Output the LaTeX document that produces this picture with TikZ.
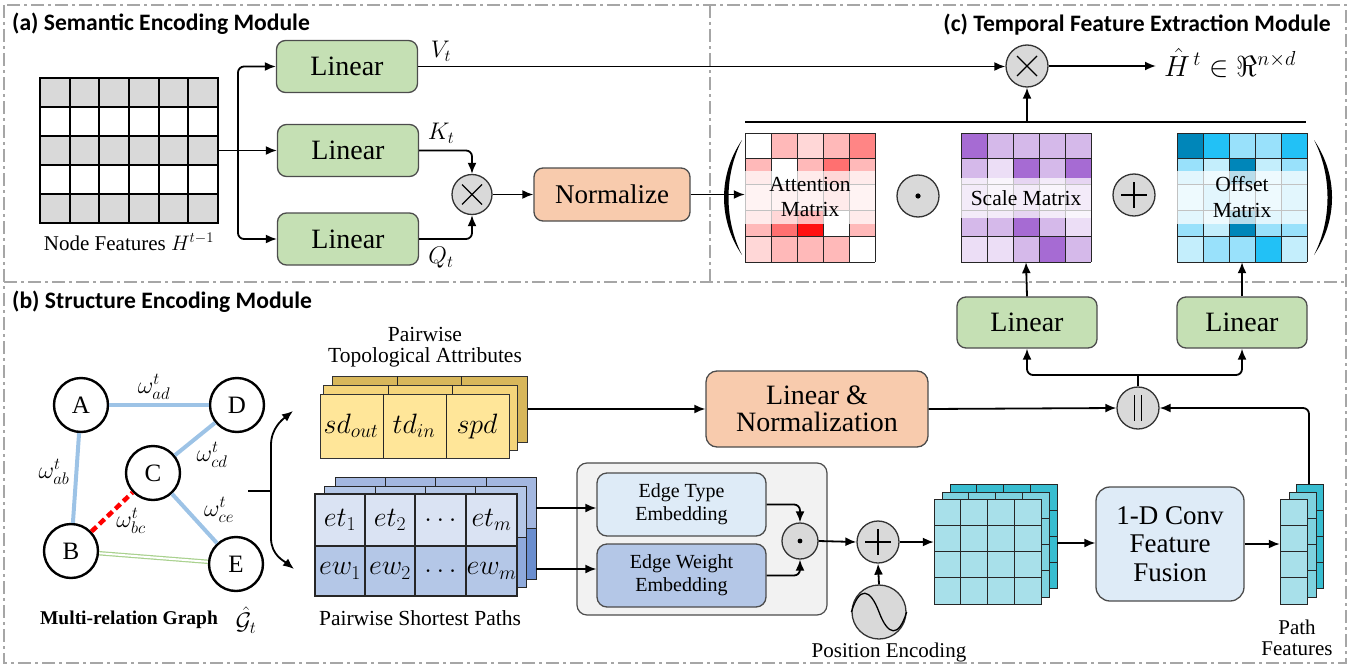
\RequirePackage{fix-cm}
\documentclass[tikz,border=0pt]{standalone}
\usepackage[no-math]{fontspec}
\setmainfont{Liberation Serif}
\newfontfamily\hdfont{Carlito}
\newfontfamily\tmfont{Liberation Serif}
\usetikzlibrary{arrows.meta,calc}
\definecolor{cgreen}{HTML}{C5E0B4}
\definecolor{csalmon}{HTML}{F8CBAD}
\definecolor{cop}{HTML}{D9D9D9}
\definecolor{cpanel}{HTML}{A6A6A6}
\definecolor{clb}{HTML}{DEEBF7}
\definecolor{cmb}{HTML}{B4C7E7}
\definecolor{ccont}{HTML}{F2F2F2}
\definecolor{cedge}{HTML}{9DC3E6}
\definecolor{cgedge}{HTML}{A9D18E}
\definecolor{ra}{HTML}{FFB9B9}
\definecolor{rb}{HTML}{FFD7D7}
\definecolor{rc}{HTML}{FF8585}
\definecolor{rd}{HTML}{FF7070}
\definecolor{re}{HTML}{FF1010}
\definecolor{pa}{HTML}{A66BD3}
\definecolor{pb}{HTML}{D5B9EA}
\definecolor{pc}{HTML}{ECDEF6}
\definecolor{ba}{HTML}{0086B9}
\definecolor{bb}{HTML}{22C1F6}
\definecolor{bc}{HTML}{99E1FB}
\definecolor{bd}{HTML}{C4EEFC}
\definecolor{ya}{HTML}{FFE699}
\definecolor{yb}{HTML}{F5D57B}
\definecolor{yc}{HTML}{D8B75B}
\definecolor{sa}{HTML}{DAE3F3}
\definecolor{sb}{HTML}{B4C7E7}
\definecolor{sc}{HTML}{A3B7E0}
\definecolor{sd}{HTML}{8FAADC}
\definecolor{se}{HTML}{6A8ECF}
\definecolor{ca}{HTML}{A8E0EA}
\definecolor{cb}{HTML}{7ED2DF}
\definecolor{cc}{HTML}{38BDD0}
\tikzset{
  box/.style={draw=black!70, line width=1.3pt, rounded corners=9pt, inner sep=0pt, align=center},
  greenbox/.style={box, fill=cgreen, minimum width=141pt, minimum height=52pt, font=\tmfont\fontsize{28}{30}\selectfont},
  opc/.style={circle, draw=black!80, line width=1.3pt, fill=cop, inner sep=0pt, minimum size=#1},
  arr/.style={-{Latex[length=11pt,width=9pt]}, line width=1.8pt},
  ln/.style={line width=1.8pt},
  panel/.style={draw=cpanel, line width=1.8pt, dash pattern=on 13pt off 4pt on 3pt off 4pt},
  gnode/.style={circle, draw=black, fill=white, line width=2.4pt, minimum size=54pt, inner sep=0pt, font=\tmfont\fontsize{25}{25}\selectfont},
  lbl/.style={font=\tmfont\fontsize{21}{21}\selectfont, align=center, inner sep=1pt},
  mth/.style={font=\fontsize{24}{24}\selectfont, inner sep=1pt},
  cmth/.style={font=\fontsize{28}{28}\selectfont, inner sep=1pt},
  hdr/.style={font=\hdfont\bfseries\fontsize{23.6}{24}\selectfont, inner sep=0pt},
  cell/.style={draw=black!85, line width=1pt},
  band/.style={fill=white, opacity=0.72},
  mnode/.style={minimum width=130pt, minimum height=129pt, inner sep=0pt},
  mtext/.style={font=\tmfont\fontsize{21.5}{25.5}\selectfont, align=center, inner sep=1pt},
}
\newcommand\opcross[1]{\draw[line width=1.2pt] ([xshift=-10pt,yshift=10pt]#1.center) -- ([xshift=10pt,yshift=-10pt]#1.center) ([xshift=10pt,yshift=10pt]#1.center) -- ([xshift=-10pt,yshift=-10pt]#1.center);}
\newcommand\opplus[1]{\draw[line width=1.2pt] ([xshift=-13pt]#1.center) -- ([xshift=13pt]#1.center) ([yshift=13pt]#1.center) -- ([yshift=-13pt]#1.center);}
\newcommand\mymatrix[3]{%
  \foreach \rowl [count=\ri from 0] in {#3} {
    \foreach \cl [count=\ki from 0] in \rowl {
      \fill[\cl] ({#1+\ki*26},{#2+\ri*25.8}) rectangle ++(26,25.8);
    }
  }
  \foreach \ki in {0,...,5} {\draw[cell] ({#1+\ki*26},#2) -- ++(0,129);}
  \foreach \ri in {0,...,5} {\draw[cell] (#1,{#2+\ri*25.8}) -- ++(130,0);}
}
\newcommand\cgrid[7]{%
  \filldraw[fill=#7, draw=black!85, line width=1pt] (#1,#2) rectangle ++(#3,#4);
  \foreach \ki in {0,...,#5} {\draw[cell] ({#1+\ki*#3/#5},#2) -- ++(0,#4);}
  \foreach \ri in {0,...,#6} {\draw[cell] (#1,{#2+\ri*#4/#6}) -- ++(#3,0);}
}
\begin{document}
\begin{tikzpicture}[x=1pt,y=-1pt]
\useasboundingbox (0,0) rectangle (1364,669);
% panels
\draw[panel] (4,5) rectangle (1346,663);
\draw[panel] (4,282) -- (1346,282);
\draw[panel] (710,5) -- (710,282);
\node[hdr, anchor=west] (ha) at (12,24) {(a) Semantic Encoding Module};
\node[hdr, anchor=east] (hc) at (1331,25) {(c) Temporal Feature Extraction Module};
\node[hdr, anchor=west] (hb) at (12,302) {(b) Structure Encoding Module};

% ---------- (a) ----------
\foreach \ri in {0,2,4} {\fill[cop] (40,{78+\ri*29}) rectangle (218,{107+\ri*29});}
\foreach \ki in {0,...,6} {\draw[line width=1.8pt] ({40+\ki*29.667},78) -- ({40+\ki*29.667},223);}
\foreach \ri in {0,...,5} {\draw[line width=2.4pt] (39,{78+\ri*29}) -- (219,{78+\ri*29});}
\node[minimum width=178pt, minimum height=145pt, inner sep=0pt] (nf) at (129,150.5) {};
\node[lbl] (nfl) at (129,242) {Node Features $H^{t-1}$};

\node[greenbox] (la1) at (347,66.5) {Linear};
\node[greenbox] (la2) at (348,150.5) {Linear};
\node[greenbox] (la3) at (348,239) {Linear};
\coordinate (br) at (238,150.5);
\draw[ln] (nf.east) -- (br);
\draw[arr] (br) -- (la2.west);
\draw[arr, rounded corners=6pt] (br) |- (la1.west);
\draw[arr, rounded corners=6pt] (br) |- (la3.west);
\node[mth] (vt) at (441,51) {$V_t$};
\node[mth] (kt) at (441,133) {$K_t$};
\node[mth] (qt) at (441,258) {$Q_t$};

\node[opc=40pt] (m1) at (472,194.5) {};
\opcross{m1}
\draw[arr, rounded corners=6pt] (la2.east) -| (m1.north);
\draw[arr, rounded corners=6pt] (la3.east) -| (m1.south);
\node[box, fill=csalmon, minimum width=156pt, minimum height=53pt, font=\tmfont\fontsize{27}{30}\selectfont] (nrm) at (612,194.5) {Normalize};
\draw[arr] (m1.east) -- (nrm.west);

% ---------- (c) ----------
\node[opc=42pt] (m2) at (1027,66) {};
\opcross{m2}
\draw[arr] (la1.east) -- (la1.east -| m2.west);
\coordinate (hout) at (1156,66);
\draw[arr] (m2.east) -- (hout);
\node[font=\fontsize{29}{29}\selectfont, inner sep=1pt, anchor=west] (hh) at (1163,63) {$\hat{H}^{\,t}\in\Re^{n\times d}$};

\mymatrix{745}{133}{{white,ra,rb,ra,rc},{ra,white,ra,rd,ra},{rb,rb,rb,ra,rb},{ra,rd,re,white,ra},{rb,ra,ra,ra,white}}
\mymatrix{961}{133}{{pa,pb,pb,pb,pb},{pb,pc,pa,pb,pa},{pb,pc,pb,pc,pb},{pb,pb,pa,pb,pc},{pc,pc,pb,pa,pb}}
\mymatrix{1177}{133}{{ba,bb,bc,bc,bb},{bc,bd,ba,bd,bc},{bd,bc,bd,bd,bc},{bc,bd,ba,bc,bc},{bd,bc,bc,bb,bd}}
\fill[band] (745,171) rectangle (875,224);
\fill[band] (961,178) rectangle (1091,218);
\fill[band] (1177,171) rectangle (1307,224);
\node[mnode] (att) at (810,197.5) {};
\node[mnode] (sca) at (1026,197.5) {};
\node[mnode] (off) at (1242,197.5) {};
\node[mtext] (attt) at (810,197) {Attention\\Matrix};
\node[mtext] (scat) at (1026,198) {Scale Matrix};
\node[mtext] (offt) at (1242,197) {Offset\\Matrix};

\node[opc=42pt] (od) at (918,196) {};
\fill (od.center) circle (2.6);
\node[opc=42pt] (op) at (1134,195) {};
\opplus{op}

\fill (742,140) .. controls (718,175) and (718,220) .. (742,255) .. controls (724,220) and (724,175) .. (742,140);
\fill (1314,140) .. controls (1338,175) and (1338,220) .. (1314,255) .. controls (1332,220) and (1332,175) .. (1314,140);

\draw[arr] (nrm.east) -- (nrm.east -| att.west);
\coordinate (barl) at (745,122);
\coordinate (barr) at (1306,122);
\coordinate (barm) at (1027,122);
\draw[ln] (barl) -- (barr);
\draw[arr] (barm) -- (m2.south);

% ---------- (b) ----------
\node[greenbox, minimum width=140pt, minimum height=51pt] (lb1) at (1027,322.5) {Linear};
\node[greenbox, minimum width=130pt, minimum height=51pt] (lb2) at (1242,322.5) {Linear};
\draw[arr] (lb1.north) -- (sca.south);
\draw[arr] (lb2.north) -- (off.south);

\node[opc=42pt] (cat) at (1138,408) {};
\draw[line width=1.3pt] ([xshift=-3.5pt,yshift=13pt]cat.center) -- ([xshift=-3.5pt,yshift=-13pt]cat.center)
  ([xshift=3.5pt,yshift=13pt]cat.center) -- ([xshift=3.5pt,yshift=-13pt]cat.center);
\coordinate (split) at (1138,375);
\draw[ln] (cat.north) -- (split);
\draw[arr, rounded corners=6pt] (split) -| (lb1.south);
\draw[arr, rounded corners=6pt] (split) -| (lb2.south);

\node[box, fill=csalmon, minimum width=222pt, minimum height=76pt, rounded corners=11pt, font=\tmfont\fontsize{28}{27}\selectfont] (lnb) at (817,409) {Linear \&\\Normalization};
\coordinate (ysr) at (527,409);
\draw[arr] (ysr) -- (lnb.west);
\draw[arr] (lnb.east) -- (cat.west);

% graph
\node[gnode] (A) at (81,405) {A};
\node[gnode] (D) at (237,405) {D};
\node[gnode] (C) at (153,473) {C};
\node[gnode] (B) at (71,551) {B};
\node[gnode] (E) at (236,564) {E};
\draw[cedge, line width=4pt] (A) -- (D);
\draw[cedge, line width=4pt] (A) -- (B);
\draw[cedge, line width=4pt] (C) -- (D);
\draw[cedge, line width=4pt] (C) -- (E);
\draw[red, line width=4.5pt, dash pattern=on 7pt off 4pt] (B) -- (C);
\draw[cgedge, double=white, double distance=2pt, line width=1.2pt] (B) -- (E);
\node[mth] (wad) at (154,387) {$\omega^t_{ad}$};
\node[mth] (wab) at (54,472) {$\omega^t_{ab}$};
\node[mth] (wcd) at (212,455) {$\omega^t_{cd}$};
\node[mth] (wce) at (219,510) {$\omega^t_{ce}$};
\node[mth] (wbc) at (131,521) {$\omega^t_{bc}$};
\node[font=\tmfont\bfseries\fontsize{19.5}{20}\selectfont, inner sep=0pt] (mrg) at (129,620) {Multi-relation Graph};
\node[mth, inner sep=0pt] (gt) at (246,620) {$\hat{\mathcal{G}}_t$};

\coordinate (gout) at (248,491);
\coordinate (gsplit) at (271,491);
\coordinate (tipu) at (293,411);
\coordinate (tipd) at (294,569);
\draw[ln] (gout) -- (gsplit);
\draw[arr] (gsplit) -- (271,445) .. controls (271,428) and (283,419) .. (tipu);
\draw[arr] (gsplit) -- (271,538) .. controls (271,555) and (284,561) .. (tipd);

% yellow stack
\filldraw[fill=yc, draw=black!80, line width=1pt] (332,376) rectangle (527,442);
\draw[cell] (397,376) -- (397,442) (461,376) -- (461,442);
\filldraw[fill=yb, draw=black!80, line width=1pt] (323,385) rectangle (517,450);
\draw[cell] (388,385) -- (388,450) (452,385) -- (452,450);
\filldraw[fill=ya, draw=black!80, line width=1pt] (320,394) rectangle (509,458);
\draw[cell] (383,394) -- (383,458) (446,394) -- (446,458);
\node[cmth] (sdo) at (351,426) {$sd_{out}$};
\node[cmth] (tdi) at (414,426) {$td_{in}$};
\node[cmth] (spd) at (477,426) {$spd$};
\node[lbl, font=\tmfont\fontsize{21.5}{21}\selectfont] (pta) at (425,347) {Pairwise\\Topological Attributes};

% blue stack
\fill[sc] (335,477) rectangle (536,528);
\fill[se] (335,528) rectangle (536,579);
\draw[cell] (335,477) rectangle (536,579) (335,528) -- (536,528) (385,477) -- (385,579) (435,477) -- (435,579) (486,477) -- (486,579);
\fill[sb] (324,486) rectangle (526,537);
\fill[sd] (324,537) rectangle (526,587);
\draw[cell] (324,486) rectangle (526,587) (324,537) -- (526,537) (375,486) -- (375,587) (425,486) -- (425,587) (475,486) -- (475,587);
\fill[sa] (315,494) rectangle (517,546);
\fill[sb] (315,546) rectangle (517,596);
\draw[cell, line width=1.3pt] (315,494) rectangle (517,596) (315,546) -- (517,546) (365,494) -- (365,596) (415,494) -- (415,596) (466,494) -- (466,596);
\node[cmth] (et1) at (340,520) {$et_1$};
\node[cmth] (et2) at (390,520) {$et_2$};
\node[cmth] (et3) at (440.5,520) {$\dots$};
\node[cmth] (et4) at (491.5,520) {$et_m$};
\node[cmth] (ew1) at (340,571) {$ew_1$};
\node[cmth] (ew2) at (390,571) {$ew_2$};
\node[cmth] (ew3) at (440.5,571) {$\dots$};
\node[cmth] (ew4) at (491.5,571) {$ew_m$};
\node[lbl, font=\tmfont\fontsize{21.5}{21}\selectfont] (psp) at (420,618) {Pairwise Shortest Paths};

% embedding container
\node[draw=black!70, line width=1.2pt, fill=ccont, rounded corners=10pt, minimum width=250pt, minimum height=152pt, inner sep=0pt] (cont) at (702,539) {};
\node[box, fill=clb, minimum width=169pt, minimum height=63pt, rounded corners=10pt, font=\tmfont\fontsize{20}{23}\selectfont] (et) at (681.5,504.5) {Edge Type\\Embedding};
\node[box, fill=cmb, minimum width=169pt, minimum height=63pt, rounded corners=10pt, font=\tmfont\fontsize{20}{23}\selectfont] (ew) at (681.5,575.5) {Edge Weight\\Embedding};
\coordinate (bs1) at (536,508);
\coordinate (bs2) at (536,569);
\draw[arr] (bs1) -- (bs1 -| et.west);
\draw[arr] (bs2) -- (bs2 -| ew.west);
\node[opc=36pt] (od2) at (800,541) {};
\fill (od2.center) circle (2.4);
\draw[arr, rounded corners=6pt] (et.east) -| (od2.north);
\draw[arr, rounded corners=6pt] (ew.east) -| (od2.south);
\node[opc=42pt] (op2) at (878,542) {};
\opplus{op2}
\draw[arr] (od2.east) -- (op2.west);
\node[opc=54pt] (pe) at (879,612) {};
\draw[line width=1.3pt] (pe.west) .. controls +(8,-26) and +(-9,-24) .. (pe.center) .. controls +(9,24) and +(-8,26) .. (pe.east);
\draw[arr] (pe.north) -- (op2.south);
\node[lbl] (pel) at (889,652) {Position Encoding};

% cyan stacks
\cgrid{950}{484}{107}{104}{4}{4}{cc}
\cgrid{942}{492}{107}{105}{4}{4}{cb}
\cgrid{934}{499}{107}{105}{4}{4}{ca}
\node[minimum width=107pt, minimum height=105pt, inner sep=0pt] (cgf) at (987.5,551.5) {};
\draw[arr] (op2.east) -- (op2.east -| cgf.west);
\node[box, fill=clb, minimum width=148pt, minimum height=114pt, rounded corners=14pt, font=\tmfont\fontsize{27}{28.5}\selectfont] (conv) at (1170,544) {1-D Conv\\Feature\\Fusion};
\coordinate (cgr) at (1057,543);
\draw[arr] (cgr) -- (cgr -| conv.west);
\cgrid{1296}{484}{27}{104}{1}{4}{cc}
\cgrid{1289}{492}{27}{105}{1}{4}{cb}
\cgrid{1280}{499}{27}{105}{1}{4}{ca}
\node[minimum width=27pt, minimum height=105pt, inner sep=0pt] (pff) at (1293.5,551.5) {};
\draw[arr] (conv.east) -- (conv.east -| pff.west);
\node[lbl] (pfl) at (1297,638) {Path\\Features};
\coordinate (pft) at (1309,484);
\draw[arr, rounded corners=6pt] (pft) |- (cat.east);
\end{tikzpicture}
\end{document}
